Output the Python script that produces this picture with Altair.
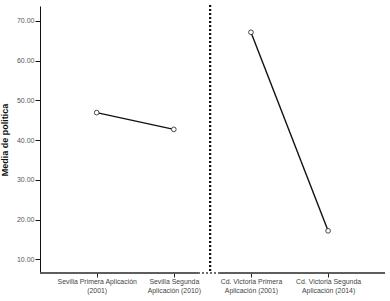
import altair as alt
import pandas as pd

categories = [
    "Sevilla Primera Aplicación\n(2001)",
    "Sevilla Segunda\nAplicación (2010)",
    "Cd. Victoria Primera\nAplicación (2001)",
    "Cd. Victoria Segunda\nAplicación (2014)",
]
groups = ["Sevilla", "Sevilla", "Cd. Victoria", "Cd. Victoria"]
positions = [1, 2, 3, 4]
media = [46.9, 42.7, 67.1, 17.2]
y_ticks = [10, 20, 30, 40, 50, 60, 70]

df = pd.DataFrame({"pos": positions, "cat": categories, "grupo": groups, "media": media})

W, H = 345, 267
FONT = "Liberation Sans"

# label expression mapping position -> two-line label
expr = "''"
for p, c in reversed(list(zip(positions, categories))):
    parts = c.split("\n")
    arr = "[" + ",".join("'" + s + "'" for s in parts) + "]"
    expr = f"datum.value == {p} ? {arr} : ({expr})"

xscale = alt.Scale(domain=[0.265, 4.738], nice=False, zero=False)
yscale = alt.Scale(domain=[6.6, 73.7], nice=False, zero=False)

xenc = alt.X("pos:Q", scale=xscale, axis=alt.Axis(
    values=positions, labelExpr=expr, grid=False, domain=False, title=None,
    tickSize=4, tickColor="#222", labelFont=FONT, labelFontSize=6.9,
    labelColor="#444", labelLineHeight=8.5, labelPadding=1.5, labelFlush=False))
yenc = alt.Y("media:Q", scale=yscale, axis=alt.Axis(
    values=y_ticks, format=".2f", grid=False, title="Media de politica",
    tickSize=5, tickColor="#111", domainColor="#111", labelFont=FONT,
    labelFontSize=7, labelColor="#555", labelPadding=1, titleFont=FONT,
    titleFontSize=9, titleFontWeight="bold", titleColor="#111", titlePadding=7))

base = alt.Chart(df)

line = base.mark_line(color="#111", strokeWidth=1.4).encode(x=xenc, y=yenc, detail="grupo:N")
pts = base.mark_point(shape="circle", size=22, fill="white", filled=False, opacity=1,
                      stroke="#333", strokeWidth=0.9).encode(x=xenc, y=yenc)

sep = base.mark_rule(color="#111", strokeWidth=2, strokeDash=[2, 2]).encode(
    x=alt.datum(2.47), y=alt.value(-1), y2=alt.value(H))
ax1 = base.mark_rule(color="#555", strokeWidth=1.2).encode(
    x=alt.value(0), x2=alt.value(158), y=alt.value(H))
ax2 = base.mark_rule(color="#555", strokeWidth=1.2).encode(
    x=alt.value(180), x2=alt.value(W), y=alt.value(H))
ax3 = base.mark_rule(color="#666", strokeWidth=1.2, strokeDash=[2, 2]).encode(
    x=alt.value(158), x2=alt.value(180), y=alt.value(H))

chart = alt.layer(sep, ax1, ax2, ax3, line, pts).properties(
    width=W, height=H,
    autosize=alt.AutoSizeParams(type="none"),
    padding={"left": 40, "top": 6, "right": 5, "bottom": 28},
    background="white",
).configure_view(stroke=None)

chart.save("out.html", embed_options={"renderer": "svg", "actions": False})
